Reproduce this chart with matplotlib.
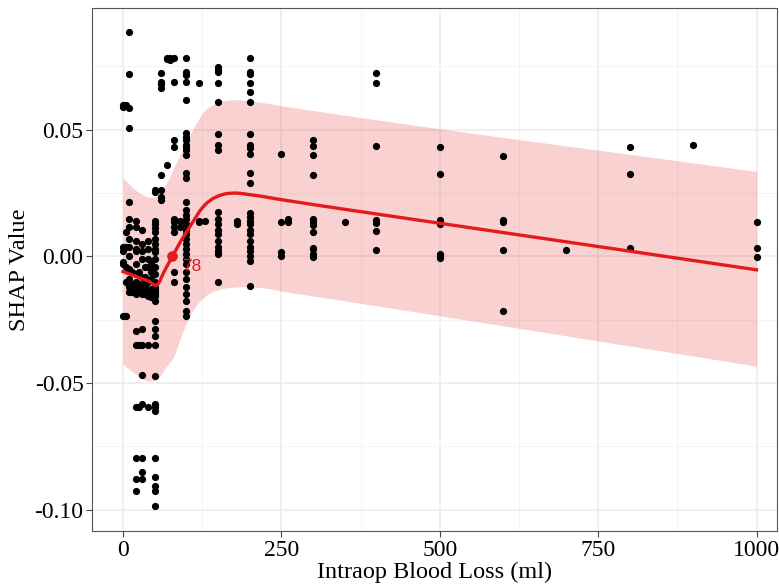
import numpy as np
import matplotlib
matplotlib.use("Agg")
from matplotlib import pyplot as plt
from matplotlib.ticker import FormatStrFormatter, MultipleLocator

# scatter data, one line per blood-loss value
blood_loss = (
    [0] * 7 + [5] * 6 + [10] * 14 + [15] * 3 + [20] * 16 + [25] * 6 + [30] * 14
    + [35] * 5 + [40] * 9 + [45] * 5
    + [50] * 33 + [60] * 8 + [70] * 3 + [75] * 2 + [80] * 10 + [90] * 2
    + [100] * 34 + [120] * 3 + [130] * 1 + [150] * 18 + [180] * 2 + [200] * 24
    + [250] * 4 + [260] * 2 + [300] * 12 + [350] * 1 + [400] * 7 + [500] * 8
    + [600] * 5 + [700] * 1 + [800] * 3 + [900] * 1 + [1000] * 3
)
shap_value = [
    0.0598, 0.0591, 0.0039, 0.0020, -0.0024, -0.0031, -0.0236,
    0.0598, 0.0039, -0.0043, -0.0102, -0.0236, 0.0098,
    0.0886, 0.0720, 0.0587, 0.0508, 0.0213, 0.0146, 0.0118, 0.0067, 0.0039, 0.0, -0.0051, -0.0091, -0.0122, -0.0142,
    -0.0060, -0.0110, -0.0140,
    0.0138, 0.0118, 0.0059, 0.0028, -0.0031, -0.0071, -0.0102, -0.0130, -0.0150, -0.0295, -0.0350, -0.0594, -0.0795, -0.0878, -0.0925, 0.0020,
    -0.0122, -0.0142, -0.0350, -0.0594, -0.0110, -0.0063,
    0.0106, 0.0047, -0.0012, -0.0083, -0.0122, -0.0150, -0.0287, -0.0350, -0.0469, -0.0583, -0.0795, -0.0850, -0.0878, 0.0020,
    -0.0040, -0.0080, -0.0120, -0.0150, -0.0100,
    0.0059, 0.0028, -0.0043, -0.0102, -0.0142, -0.0157, -0.0350, -0.0594, -0.0012,
    -0.0030, -0.0060, -0.0090, -0.0130, -0.0160,
    0.0256, 0.0264, 0.0138, 0.0126, 0.0114, 0.0098, 0.0067, 0.0047, 0.0028, 0.0016, -0.0012, -0.0043, -0.0071,
    -0.0102, -0.0122, -0.0142, -0.0157, -0.0177, -0.0256, -0.0287, -0.0315, -0.0350, -0.0472, -0.0583, -0.0594,
    -0.0610, -0.0795, -0.0870, -0.0905, -0.0925, -0.0984, -0.0130, -0.0150,
    0.0724, 0.0689, 0.0665, 0.0680, 0.0323, 0.0264, 0.0236, 0.0224,
    0.0783, 0.0362, 0.0780,
    0.0783, 0.0775,
    0.0783, 0.0689, 0.0461, 0.0433, 0.0146, 0.0134, 0.0118, 0.0098, -0.0063, -0.0102,
    0.0138, 0.0118,
    0.0783, 0.0728, 0.0717, 0.0689, 0.0618, 0.0488, 0.0472, 0.0461, 0.0441, 0.0433, 0.0421, 0.0402, 0.0331, 0.0311,
    0.0213, 0.0185, 0.0165, 0.0146, 0.0126, 0.0106, 0.0087, 0.0067, 0.0047, 0.0028, 0.0008, -0.0012, -0.0031,
    -0.0063, -0.0091, -0.0122, -0.0150, -0.0177, -0.0217, -0.0236,
    0.0685, 0.0138, 0.0134,
    0.0138,
    0.0748, 0.0736, 0.0728, 0.0685, 0.0610, 0.0484, 0.0441, 0.0421, 0.0177, 0.0146, 0.0126, 0.0106, 0.0087,
    0.0059, 0.0039, 0.0020, 0.0008, -0.0102,
    0.0138, 0.0126,
    0.0783, 0.0728, 0.0720, 0.0685, 0.0650, 0.0610, 0.0484, 0.0441, 0.0429, 0.0406, 0.0331, 0.0291, 0.0173,
    0.0154, 0.0138, 0.0126, 0.0106, 0.0087, 0.0059, 0.0039, 0.0020, 0.0, -0.0020, -0.0118,
    0.0406, 0.0134, 0.0016, 0.0,
    0.0146, 0.0134,
    0.0461, 0.0437, 0.0402, 0.0323, 0.0146, 0.0134, 0.0122, 0.0098, 0.0035, 0.0028, 0.0008, -0.0004,
    0.0134,
    0.0724, 0.0685, 0.0437, 0.0142, 0.0130, 0.0102, 0.0024,
    0.0433, 0.0327, 0.0142, 0.0134, 0.0126, 0.0008, 0.0, -0.0008,
    0.0398, 0.0142, 0.0134, 0.0024, -0.0217,
    0.0024,
    0.0433, 0.0327, 0.0035,
    0.0441,
    0.0134, 0.0035, -0.0004,
]

# fitted curve and its confidence band
fit_x = [0, 20, 40, 55, 65, 78, 90, 100, 110, 120, 130, 140, 150, 160, 175, 200, 250, 500, 750, 1000]
fit_y = [-0.0060, -0.0079, -0.0097, -0.0110, -0.0060, 0.0, 0.0055, 0.0095, 0.0135, 0.0175, 0.0205,
         0.0225, 0.0238, 0.0246, 0.0250, 0.0244, 0.0224, 0.0131, 0.0039, -0.0053]
band_x = [0, 16, 31, 45, 55, 69, 79, 94, 110, 126, 148, 173, 211, 263, 1000]
band_hi = [0.031, 0.027, 0.0244, 0.0233, 0.024, 0.029, 0.0343, 0.0421, 0.050, 0.0567, 0.0606,
           0.0618, 0.061, 0.059, 0.0335]
band_lo = [-0.0425, -0.0457, -0.0484, -0.0492, -0.0482, -0.0433, -0.040, -0.030, -0.0215, -0.0165,
           -0.0133, -0.0122, -0.0122, -0.0142, -0.0433]

cut_x = 78
cut_y = 0.0


def smooth(xs, ys, n=1500):
    # cubic hermite through the read points, only for drawing
    xs = np.asarray(xs, float)
    ys = np.asarray(ys, float)
    m = np.gradient(ys, xs)
    xx = np.linspace(xs[0], xs[-1], n)
    idx = np.clip(np.searchsorted(xs, xx) - 1, 0, len(xs) - 2)
    h = xs[idx + 1] - xs[idx]
    t = (xx - xs[idx]) / h
    h00 = 2 * t**3 - 3 * t**2 + 1
    h10 = t**3 - 2 * t**2 + t
    h01 = -2 * t**3 + 3 * t**2
    h11 = t**3 - t**2
    yy = h00 * ys[idx] + h10 * h * m[idx] + h01 * ys[idx + 1] + h11 * h * m[idx + 1]
    return xx, yy


plt.rcParams["font.family"] = ["Liberation Serif", "DejaVu Serif"]
plt.rcParams["axes.unicode_minus"] = False

fig = plt.figure(figsize=(7.79, 5.85), dpi=100)
ax = fig.add_axes([0.118, 0.092, 0.880, 0.894])

red = "#E41A1C"

bx, bhi = smooth(band_x, band_hi)
_, blo = smooth(band_x, band_lo)
ax.fill_between(bx, blo, bhi, color=red, alpha=0.2, linewidth=0, zorder=2)

ax.scatter(blood_loss, shap_value, s=27, color="black", linewidths=0, zorder=3)

fx, fy = smooth(fit_x, fit_y)
ax.plot(fx, fy, color=red, linewidth=2.4, zorder=4)

ax.scatter([cut_x], [cut_y], s=58, color=red, linewidths=0, zorder=5)
ax.annotate(str(cut_x), (cut_x, cut_y), xytext=(7.0, -7.5), textcoords="offset points",
            ha="left", va="center", color=red, fontsize=12.5, family="Liberation Sans", zorder=6)

ax.set_xlim(-49, 1033)
ax.set_ylim(-0.1085, 0.098)
ax.xaxis.set_major_locator(MultipleLocator(250))
ax.xaxis.set_minor_locator(MultipleLocator(125))
ax.yaxis.set_major_locator(MultipleLocator(0.05))
ax.yaxis.set_minor_locator(MultipleLocator(0.025))
ax.yaxis.set_major_formatter(FormatStrFormatter("%.2f"))

ax.grid(which="major", color="#EBEBEB", linewidth=1.1, zorder=0)
ax.grid(which="minor", color="#F2F2F2", linewidth=0.6, zorder=0)
ax.set_axisbelow(True)

ax.tick_params(which="major", length=4, width=0.8, color="#444444", labelsize=17, labelcolor="black", pad=2)
ax.tick_params(which="minor", length=0)
for s in ax.spines.values():
    s.set_color("#555555")
    s.set_linewidth(0.8)

ax.set_xlabel("Intraop Blood Loss (ml)", fontsize=17.5, labelpad=1)
ax.set_ylabel("SHAP Value", fontsize=17.5, labelpad=3)

plt.savefig("out.png", dpi=100)
plt.close()
